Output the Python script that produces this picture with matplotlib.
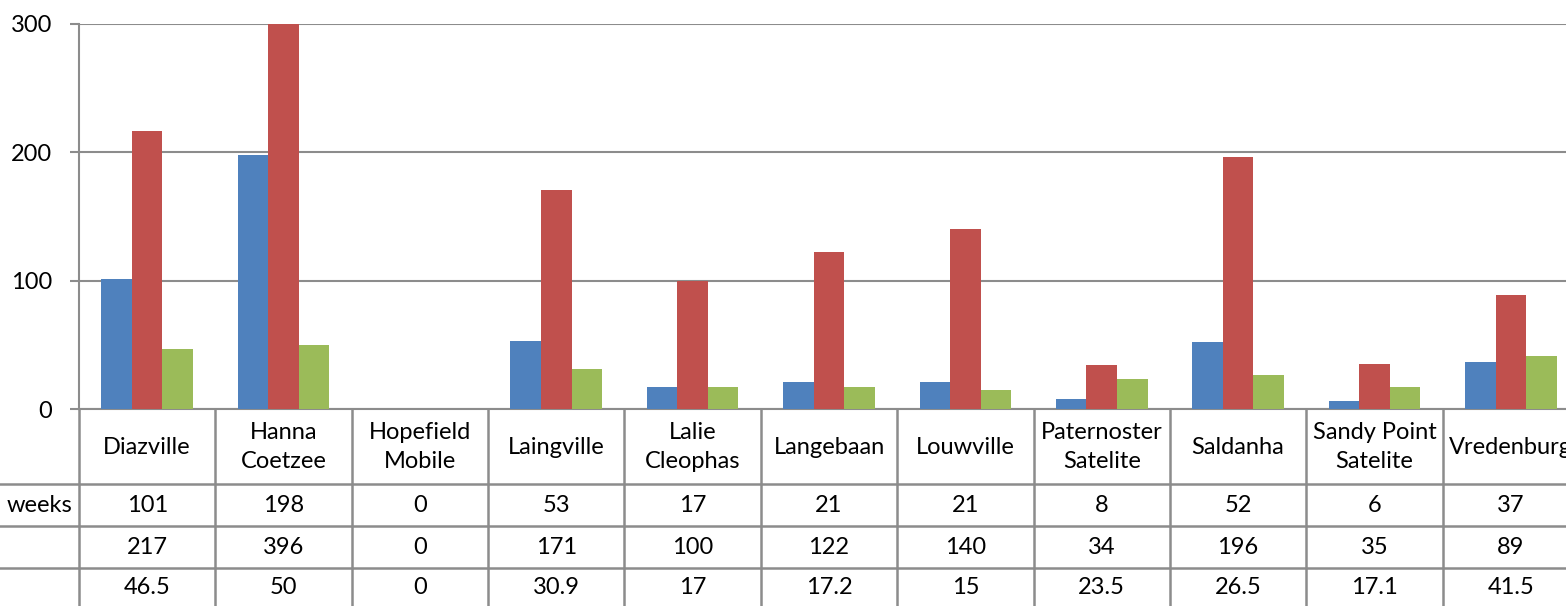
import numpy as np
import matplotlib.pyplot as plt
from matplotlib.transforms import blended_transform_factory

plt.rcParams['font.family'] = ['Lato', 'DejaVu Sans']

categories = ['Diazville', 'Hanna\nCoetzee', 'Hopefield\nMobile', 'Laingville', 'Lalie\nCleophas',
              'Langebaan', 'Louwville', 'Paternoster\nSatelite', 'Saldanha', 'Sandy Point\nSatelite',
              'Vredenburg']
weeks = [101, 198, 0, 53, 17, 21, 21, 8, 52, 6, 37]
series2 = [217, 396, 0, 171, 100, 122, 140, 34, 196, 35, 89]
series3 = [46.5, 50, 0, 30.9, 17, 17.2, 15, 23.5, 26.5, 17.1, 41.5]
row_labels = ['weeks', '', '']
rows = [weeks, series2, series3]
colors = ['#4F81BD', '#C0504D', '#9BBB59']
grid_col = '#8C8C8C'

W, H = 1566, 606
fig = plt.figure(figsize=(W / 100, H / 100), dpi=100)
# axes extends past the right edge, as in the cropped original
ax = fig.add_axes([79 / W, (H - 409) / H, 1500 / W, 385 / H])

x = np.arange(len(categories))
bw = 0.224
for i, (vals, c) in enumerate(zip(rows, colors)):
    ax.bar(x + (i - 1) * bw, vals, bw, color=c, zorder=3)

ax.set_xlim(-0.5, len(categories) - 0.5)
ax.set_ylim(0, 300)
ax.set_yticks([0, 100, 200, 300])
ax.set_xticks([])
ax.yaxis.grid(True, color=grid_col, linewidth=1.5, zorder=0)
ax.tick_params(axis='y', length=6.5, width=1.5, color=grid_col, pad=13, labelsize=17)
for s in ['top', 'right']:
    ax.spines[s].set_visible(False)
for s in ['left', 'bottom']:
    ax.spines[s].set_color(grid_col)
    ax.spines[s].set_linewidth(1.5)


def ay(ypix):
    return (409 - ypix) / 385


tr = blended_transform_factory(ax.transData, ax.transAxes)
x_left = -0.5 - 79 / 136.36
line_kw = dict(color=grid_col, linewidth=1.8, clip_on=False, transform=tr)

# table grid
for yp in [484, 526, 568]:
    ax.plot([x_left, len(categories) - 0.5], [ay(yp), ay(yp)], **line_kw)
for k in range(len(categories) + 1):
    ax.plot([k - 0.5, k - 0.5], [0, ay(620)], **line_kw)

# header row
for xi, name in zip(x, categories):
    ax.text(xi, ay(447), name, ha='center', va='center', fontsize=17,
            linespacing=1.45, transform=tr, clip_on=False)

# data rows
row_y = [505, 547, 588]
for yp, vals, lab in zip(row_y, rows, row_labels):
    for xi, v in zip(x, vals):
        ax.text(xi, ay(yp), f'{v:g}', ha='center', va='center', fontsize=17,
                transform=tr, clip_on=False)
    ax.text(-0.5 - 7 / 136.36, ay(yp), lab, ha='right', va='center', fontsize=17,
            transform=tr, clip_on=False)

fig.savefig('out.png', dpi=100)
